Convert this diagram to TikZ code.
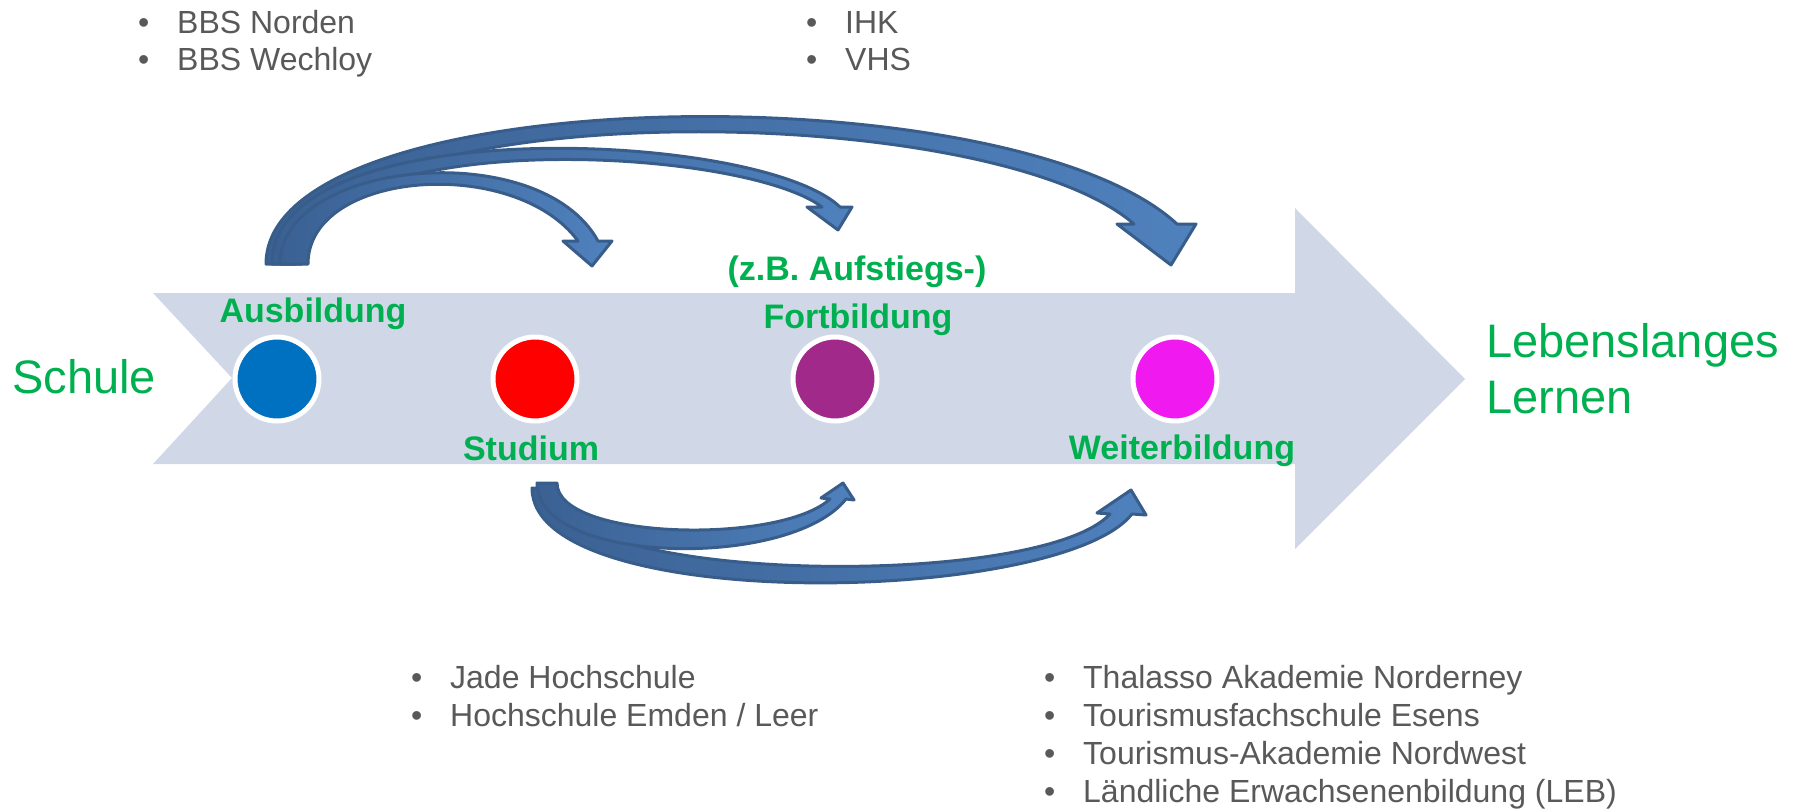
\documentclass[tikz,border=0pt]{standalone}
\usepackage{fontspec}
\setmainfont{Liberation Sans}
\definecolor{gruen}{HTML}{00B050}
\definecolor{grau}{HTML}{595959}
\definecolor{band}{HTML}{D0D8E8}
\definecolor{pfeilhell}{HTML}{4F81BD}
\definecolor{pfeildunkel}{HTML}{3B6193}
\definecolor{pfeilrand}{HTML}{385D8A}
\definecolor{blau}{HTML}{0070C0}
\definecolor{rot}{HTML}{FF0000}
\definecolor{lila}{HTML}{A0298A}
\definecolor{pink}{HTML}{F01AF0}
\tikzset{
  punkt/.style={circle, draw=white, line width=5pt, minimum size=84pt, inner sep=0pt},
  stufe/.style={text=gruen, font=\fontsize{34}{40}\selectfont\bfseries, inner sep=0pt, anchor=base},
  ziel/.style={text=gruen, font=\fontsize{47}{56}\selectfont, inner sep=0pt, anchor=base west},
  eintrag/.style={text=grau, font=\fontsize{32}{38}\selectfont, inner sep=0pt, anchor=base west},
  pfeil/.style={left color=pfeildunkel, right color=pfeilhell, draw=pfeilrand, line width=3pt, line join=round}
}
\newcommand{\punktliste}[1]{\makebox[39pt][l]{\textbullet}#1}
\begin{document}
\begin{tikzpicture}[x=1pt,y=-1pt]
  \useasboundingbox (0,0) rectangle (1794,809);
  % grosser Pfeil
  \fill[band] (153,293) -- (1295,293) -- (1295,208) -- (1465,379) -- (1295,549) -- (1295,464) -- (153,464) -- (232,378) -- cycle;

  % Pfeilspitzen
  \coordinate (spW) at (1171,265);
  \coordinate (spF) at (838,230);
  \coordinate (spS) at (592,266);
  \coordinate (spWu) at (1131,490);
  \coordinate (spFu) at (843,483);

  % Pfeile oben (ab Ausbildung)
  \shadedraw[pfeil] (266,264) .. controls (266,80) and (1010,70) .. (1177,224) -- (1196,224) -- (spW) -- (1117,224) -- (1134,224) .. controls (985,95) and (296,95) .. (296,264) -- cycle;
  \shadedraw[pfeil] (272,264) .. controls (272,110) and (760,130) .. (840,207) -- (852,207) -- (spF) -- (807,207) -- (822,207) .. controls (740,145) and (302,125) .. (302,264) -- cycle;
  \shadedraw[pfeil] (280,264) .. controls (280,160) and (540,135) .. (598,241) -- (612,241) -- (spS) -- (563,241) -- (578,241) .. controls (515,155) and (308,170) .. (308,264) -- cycle;

  % Pfeile unten (ab Studium)
  \shadedraw[pfeil] (532,488) .. controls (532,615) and (1060,605) .. (1132,514) -- (1146,515) -- (spWu) -- (1097,513) -- (1110,514) .. controls (1040,590) and (552,585) .. (552,488) -- cycle;
  \shadedraw[pfeil] (537,483) .. controls (537,565) and (790,570) .. (846,499) -- (854,500) -- (spFu) -- (821,498) -- (830,499) .. controls (780,545) and (557,540) .. (557,483) -- cycle;

  % Stationen
  \node[punkt, fill=blau] (aus) at (277,379) {};
  \node[punkt, fill=rot] (stud) at (535,379) {};
  \node[punkt, fill=lila] (fort) at (835,379) {};
  \node[punkt, fill=pink] (weiter) at (1175,379) {};

  \node[stufe] (ausl) at (313,322) {Ausbildung};
  \node[stufe] (studl) at (531,460) {Studium};
  \node[stufe] (aufl) at (857,280) {(z.B. Aufstiegs-)};
  \node[stufe] (fortl) at (858,328) {Fortbildung};
  \node[stufe] (weiterl) at (1182,459) {Weiterbildung};

  \node[ziel] (schule) at (12,393) {Schule};
  \node[ziel] (leb) at (1486,357) {Lebenslanges};
  \node[ziel] (lern) at (1486,413) {Lernen};

  % Anbieter
  \foreach \txt [count=\i] in {BBS Norden, BBS Wechloy}
    \node[eintrag] (bbs\i) at (138,{33+37*(\i-1)}) {\punktliste{\txt}};
  \foreach \txt [count=\i] in {IHK, VHS}
    \node[eintrag] (ihk\i) at (806,{33+37*(\i-1)}) {\punktliste{\txt}};
  \foreach \txt [count=\i] in {Jade Hochschule, Hochschule Emden / Leer}
    \node[eintrag] (hs\i) at (411,{688+38*(\i-1)}) {\punktliste{\txt}};
  \foreach \txt [count=\i] in {Thalasso Akademie Norderney, Tourismusfachschule Esens, Tourismus-Akademie Nordwest, Ländliche Erwachsenenbildung (LEB)}
    \node[eintrag] (tour\i) at (1044,{688+38*(\i-1)}) {\punktliste{\txt}};
\end{tikzpicture}
\end{document}
